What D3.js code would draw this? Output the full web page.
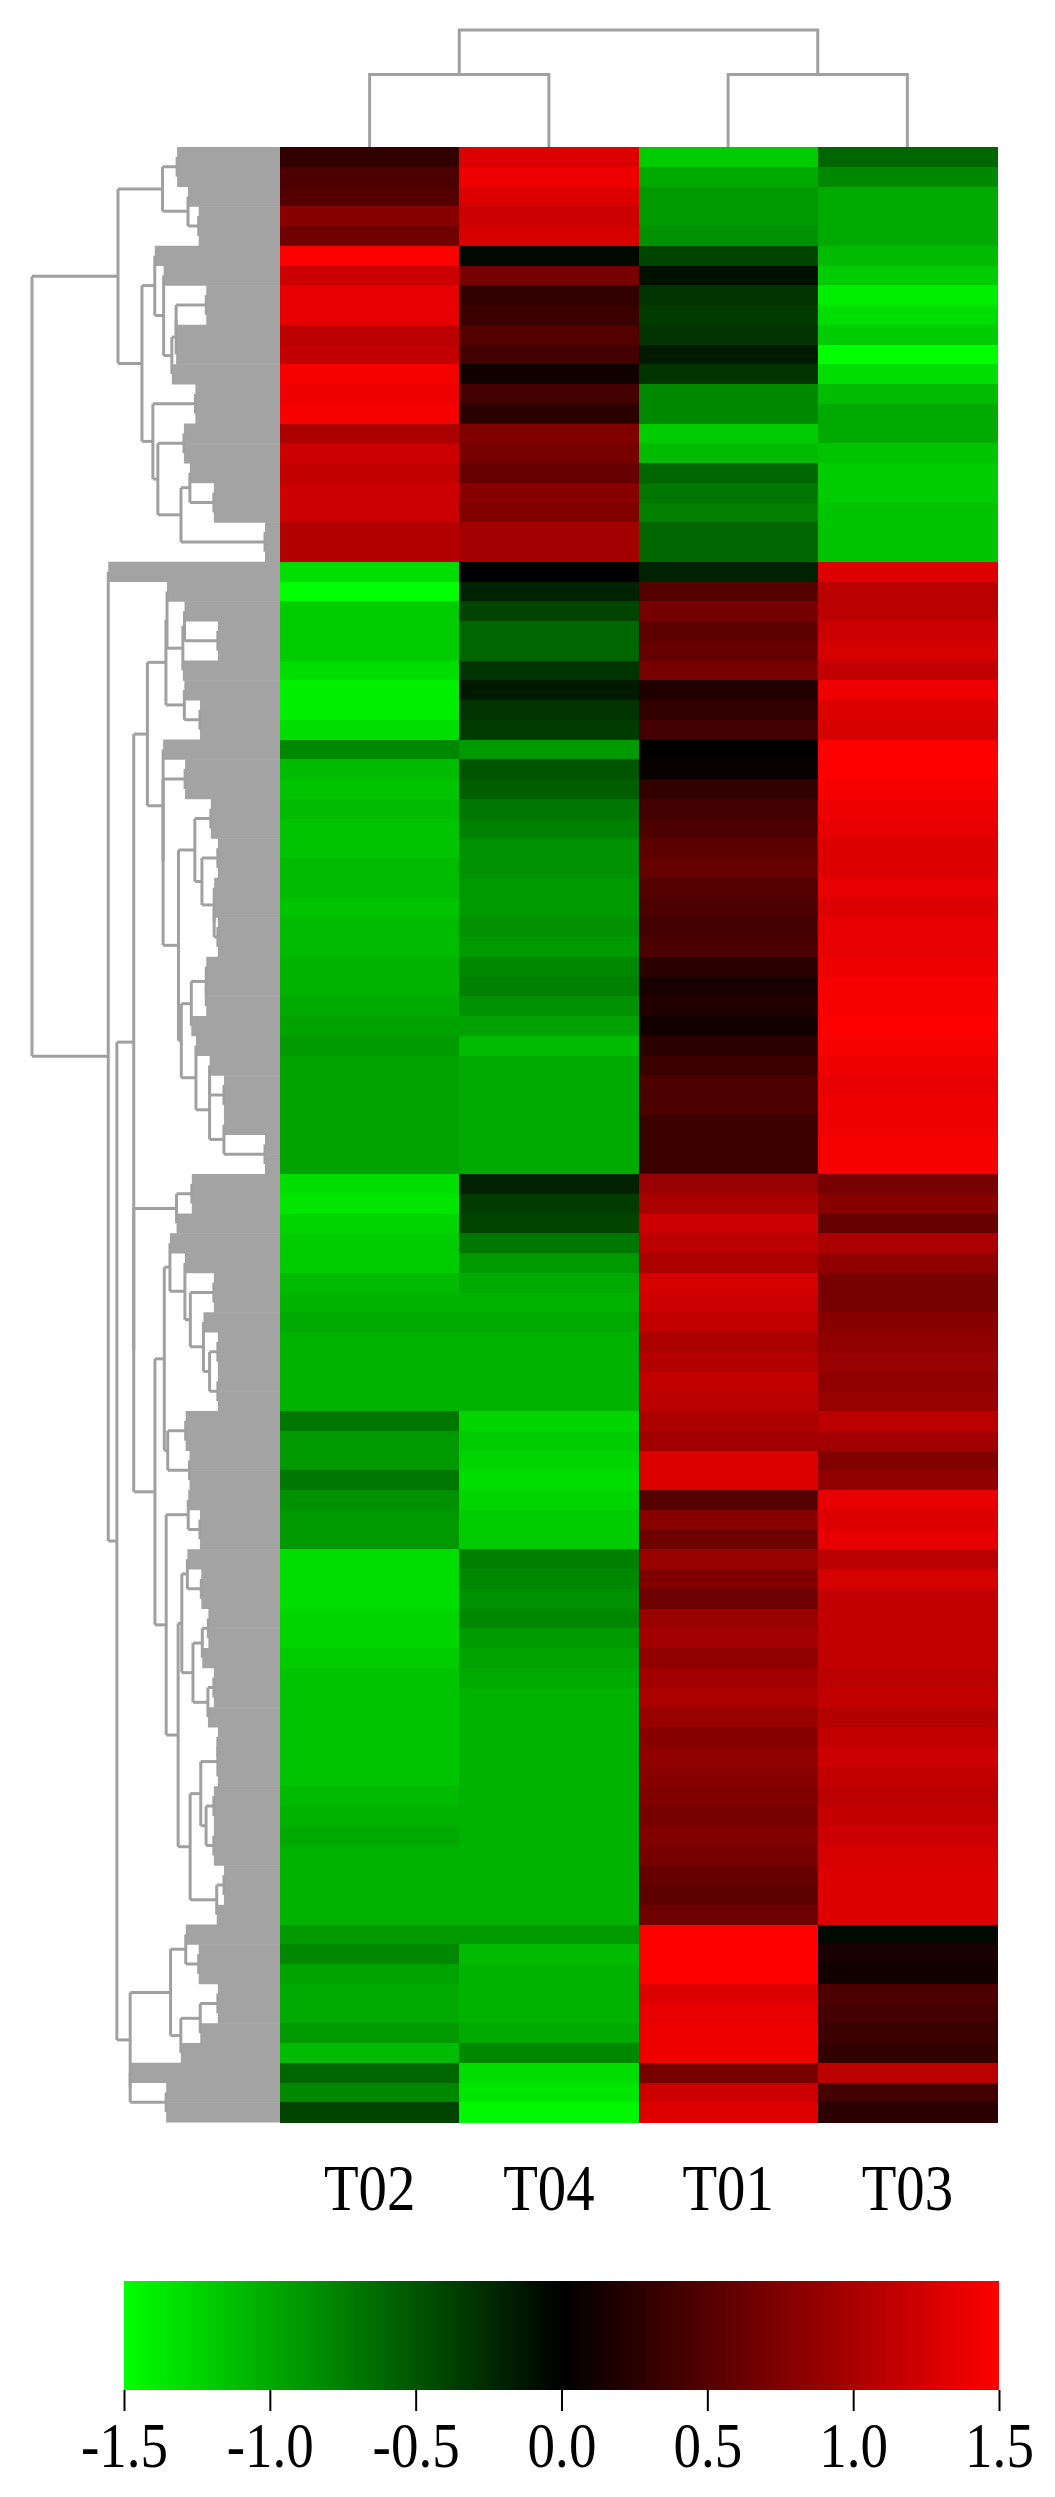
<!DOCTYPE html>
<html><head><meta charset="utf-8">
<script src="https://cdn.jsdelivr.net/npm/d3@7"></script>
<style>body{margin:0;background:#fff}svg{display:block}</style>
</head><body>
<script>
const samples = ["T02","T04","T01","T03"];
const T02 = [0.3,0.45,0.5,0.8,0.65,1.5,1.2,1.35,1.35,1.1,1.15,1.45,1.4,1.45,1.0,1.2,1.15,1.2,1.2,1.05,1.05,
-1.3,-1.5,-1.2,-1.2,-1.2,-1.3,-1.4,-1.4,-1.3,-0.8,-1.1,-1.15,-1.1,-1.15,-1.15,-1.1,-1.1,-1.15,-1.1,-1.1,-1.05,-1.05,-1.0,-0.95,-0.9,-0.95,-0.95,-0.95,-0.95,-0.95,-0.95,
-1.3,-1.35,-1.25,-1.2,-1.2,-1.1,-1.05,-1.0,-1.05,-1.05,-1.05,-1.05,-0.7,-0.9,-0.9,-0.7,-0.85,-0.9,-0.9,-1.3,-1.3,-1.3,-1.25,-1.25,-1.2,-1.15,-1.15,-1.15,-1.15,-1.15,-1.15,-1.1,-1.05,-1.0,-1.05,-1.05,-1.05,-1.05,
-0.9,-0.8,-0.95,-1.0,-1.0,-0.9,-1.1,-0.6,-0.8,-0.4];
const T04 = [1.3,1.4,1.3,1.2,1.25,-0.05,0.7,0.3,0.35,0.5,0.4,0.1,0.4,0.25,0.75,0.7,0.6,0.8,0.75,0.95,0.95,
0.0,-0.2,-0.4,-0.6,-0.6,-0.3,-0.15,-0.3,-0.35,-0.9,-0.5,-0.55,-0.7,-0.75,-0.85,-0.85,-0.9,-0.9,-0.85,-0.9,-0.8,-0.75,-0.85,-0.95,-1.1,-1.0,-1.0,-1.0,-1.0,-1.0,-1.0,
-0.2,-0.35,-0.4,-0.7,-0.9,-1.0,-1.05,-1.0,-1.05,-1.05,-1.05,-1.05,-1.25,-1.2,-1.25,-1.3,-1.25,-1.2,-1.2,-0.75,-0.8,-0.85,-0.8,-0.9,-0.95,-1.0,-1.05,-1.05,-1.05,-1.05,-1.05,-1.05,-1.05,-1.05,-1.05,-1.05,-1.05,-1.05,
-0.9,-1.1,-1.05,-1.05,-1.05,-1.0,-0.8,-1.3,-1.35,-1.45];
const T01 = [-1.2,-1.0,-0.9,-0.9,-0.85,-0.4,-0.1,-0.3,-0.35,-0.3,-0.15,-0.3,-0.8,-0.8,-1.2,-1.1,-0.6,-0.7,-0.75,-0.6,-0.6,
-0.2,0.5,0.7,0.55,0.6,0.7,0.2,0.3,0.4,0.0,0.05,0.3,0.4,0.45,0.55,0.6,0.5,0.45,0.4,0.45,0.25,0.15,0.2,0.1,0.25,0.35,0.45,0.45,0.35,0.35,0.35,
0.9,1.0,1.2,1.1,1.0,1.25,1.2,1.15,1.0,1.05,1.15,1.1,1.0,0.95,1.3,1.3,0.5,0.8,0.65,0.9,0.75,0.65,0.9,0.95,0.85,0.95,1.0,0.9,0.8,0.85,0.8,0.75,0.7,0.75,0.7,0.6,0.55,0.65,
1.5,1.5,1.5,1.3,1.35,1.4,1.4,0.7,1.2,1.3];
const T03 = [-0.6,-0.8,-1.0,-1.0,-1.0,-1.1,-1.2,-1.4,-1.3,-1.2,-1.5,-1.3,-1.1,-1.0,-1.0,-1.15,-1.2,-1.2,-1.15,-1.15,-1.15,
1.3,1.1,1.1,1.2,1.25,1.15,1.4,1.3,1.25,1.5,1.5,1.45,1.4,1.35,1.3,1.3,1.35,1.3,1.35,1.35,1.4,1.45,1.45,1.5,1.45,1.4,1.35,1.4,1.4,1.45,1.45,
0.7,0.8,0.6,1.0,0.85,0.7,0.7,0.8,0.85,0.9,0.85,0.9,1.1,0.95,0.75,0.85,1.35,1.3,1.35,1.1,1.25,1.15,1.15,1.15,1.15,1.1,1.15,1.05,1.15,1.2,1.15,1.1,1.15,1.2,1.25,1.3,1.3,1.3,
-0.05,0.15,0.1,0.45,0.4,0.35,0.3,1.1,0.4,0.25];
const colMergeHeights = [0.62, 0.62, 1.0]; // (T02,T04), (T01,T03), root
const legendTicks = [-1.5,-1.0,-0.5,0.0,0.5,1.0,1.5];

const series = [T02,T04,T01,T03];
const nRows = T02.length;
const rows = d3.range(nRows).map(i => series.map(s => s[i]));

const W=1055,H=2497;
const svg=d3.select("body").append("svg").attr("width",W).attr("height",H);
const hmL=280,hmR=997,hmT=147,hmB=2122;
const x=d3.scaleBand().domain(samples).range([hmL,hmR]);
const y=d3.scaleBand().domain(d3.range(nRows)).range([hmT,hmB]);
const color=d3.scaleLinear().domain([-1.5,0,1.5]).range(["#00ff00","#000000","#ff0000"]).clamp(true);

const g=svg.append("g");
rows.forEach((r,i)=>r.forEach((v,j)=>{
  g.append("rect").attr("x",x(samples[j])).attr("y",y(i)).attr("width",x.bandwidth()+0.5).attr("height",y.bandwidth()+0.5)
   .attr("fill",color(v)).attr("shape-rendering","crispEdges");
}));

const dist=(a,b)=>Math.sqrt(d3.sum(a,(v,k)=>(v-b[k])**2));
let clusters=rows.map((r,i)=>({leaves:[i],h:0,yc:y(i)+y.bandwidth()/2,leaf:true,idx:i}));
function cd(A,B){let s=0;A.leaves.forEach(a=>B.leaves.forEach(b=>s+=dist(rows[a],rows[b])));return s/(A.leaves.length*B.leaves.length);}
while(clusters.length>1){
  let best=Infinity,bi=0;
  for(let i=0;i<clusters.length-1;i++){const d=cd(clusters[i],clusters[i+1]);if(d<best){best=d;bi=i;}}
  const A=clusters[bi],B=clusters[bi+1];
  const h=Math.max(best,A.h,B.h);
  clusters.splice(bi,2,{leaves:A.leaves.concat(B.leaves),h,children:[A,B],yc:(A.yc+B.yc)/2});
}
const root=clusters[0];
const hx=d3.scalePow().exponent(0.4).domain([0,root.h]).range([hmL-15,32]);
const dg=svg.append("g").attr("stroke","#a0a0a0").attr("stroke-width",3).attr("fill","none");
const lg=svg.append("g").attr("fill","#a3a3a3");
function drawNode(n){
  if(!n.children)return;
  const px=hx(n.h);
  const [a,b]=n.children;
  dg.append("line").attr("x1",px).attr("x2",px).attr("y1",a.yc).attr("y2",b.yc);
  [a,b].forEach(c=>{
    if(c.leaf){
      lg.append("rect").attr("x",px).attr("y",y(c.idx)).attr("width",hmL-px).attr("height",y.bandwidth()+0.5);
    } else {
      dg.append("line").attr("x1",px).attr("x2",hx(c.h)).attr("y1",c.yc).attr("y2",c.yc);
      drawNode(c);
    }
  });
}
drawNode(root);
svg.node().appendChild(dg.node());

const cy=d3.scaleLinear().domain([0,1]).range([hmT,30]);
const cg=svg.append("g").attr("stroke","#a0a0a0").attr("stroke-width",3).attr("fill","none");
const cx=s=>x(s)+x.bandwidth()/2;
function elbow(x1,y1,x2,y2,ty){cg.append("path").attr("d",`M${x1},${y1}V${ty}H${x2}V${y2}`);}
const hA=cy(colMergeHeights[0]),hB=cy(colMergeHeights[1]),hR=cy(colMergeHeights[2]);
elbow(cx("T02"),hmT,cx("T04"),hmT,hA);
elbow(cx("T01"),hmT,cx("T03"),hmT,hB);
const mA=(cx("T02")+cx("T04"))/2,mB=(cx("T01")+cx("T03"))/2;
elbow(mA,hA,mB,hB,hR);

samples.forEach(s=>{
  svg.append("text").attr("transform",`translate(${cx(s)},2210) scale(0.86,1)`).attr("text-anchor","middle")
    .attr("font-family","Liberation Serif, Times New Roman, serif").attr("font-size",66).text(s);
});

const lx=d3.scaleLinear().domain([-1.5,1.5]).range([124,999]);
const defs=svg.append("defs");
const grad=defs.append("linearGradient").attr("id","lg");
[-1.5,0,1.5].forEach(v=>grad.append("stop").attr("offset",(v+1.5)/3).attr("stop-color",color(v)));
svg.append("rect").attr("x",lx(-1.5)).attr("y",2281).attr("width",lx(1.5)-lx(-1.5)).attr("height",109).attr("fill","url(#lg)");
const ax=svg.append("g").attr("transform","translate(0,2390)")
  .call(d3.axisBottom(lx).tickValues(legendTicks).tickSize(21).tickFormat(d3.format(".1f")));
ax.select(".domain").remove();
ax.selectAll("line").attr("stroke","#000").attr("stroke-width",2);
ax.selectAll("text").attr("font-family","Liberation Serif, Times New Roman, serif").attr("font-size",64)
  .attr("fill","#000").attr("dy",0).attr("y",77).attr("transform","scale(0.86,1)").attr("x",0)
  .text(d=>d3.format(".1f")(d).replace("−","-"));
</script>
</body></html>
